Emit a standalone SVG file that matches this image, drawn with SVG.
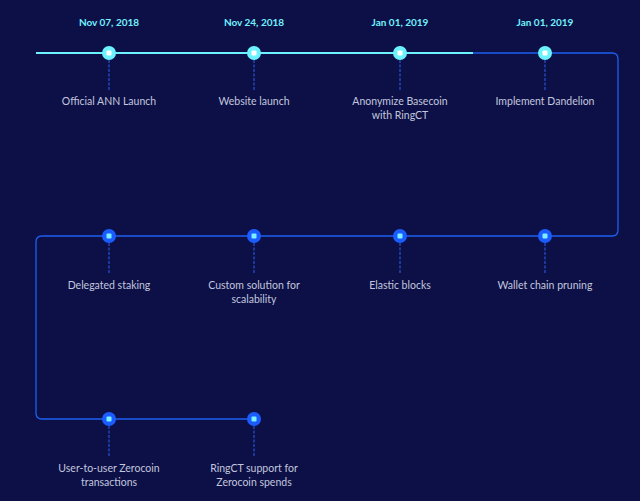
<svg xmlns="http://www.w3.org/2000/svg" width="640" height="501" viewBox="0 0 640 501">
<defs>
<style>
.bg{fill:#0c1046}
.track{fill:none;stroke:#1d5ff0;stroke-width:1.3}
.done{fill:none;stroke:#6cf2ff;stroke-width:2}
.dash{stroke:#2a62f0;stroke-width:1;stroke-dasharray:3 1.5}
.date{font-family:"Lato","Noto Sans",sans-serif;font-weight:bold;font-size:10px;fill:#72f0ff;text-anchor:middle}
.lbl{font-family:"Lato","Noto Sans",sans-serif;font-size:10.5px;fill:#c3c6df;text-anchor:middle}
.dotA{fill:#6cf2ff}
.sqA{fill:#ffffff}
.dotB{fill:#1a5cff}
.sqB{fill:#7cf0ff}
</style>
</defs>
<rect class="bg" x="0" y="0" width="640" height="501"/>
<g id="connectors">
<path class="track" d="M36,53 H612 Q618,53 618,59 V230 Q618,236 612,236 H42 Q36,236 36,242 V413 Q36,419 42,419 H254"/>
<line class="done" x1="36" y1="53" x2="473" y2="53"/>
<line class="dash" x1="109" y1="60" x2="109" y2="90"/>
<line class="dash" x1="254" y1="60" x2="254" y2="90"/>
<line class="dash" x1="400" y1="60" x2="400" y2="90"/>
<line class="dash" x1="545" y1="60" x2="545" y2="90"/>
<line class="dash" x1="109" y1="243" x2="109" y2="273"/>
<line class="dash" x1="254" y1="243" x2="254" y2="273"/>
<line class="dash" x1="400" y1="243" x2="400" y2="273"/>
<line class="dash" x1="545" y1="243" x2="545" y2="273"/>
<line class="dash" x1="109" y1="426" x2="109" y2="456"/>
<line class="dash" x1="254" y1="426" x2="254" y2="456"/>
</g>
<g id="n1"><text class="date" x="109" y="26">Nov 07, 2018</text><circle class="dotA" cx="109" cy="53" r="7"/><rect class="sqA" x="106.5" y="50.5" width="5" height="5" rx="1"/><text class="lbl" x="109" y="105">Official ANN Launch</text></g>
<g id="n2"><text class="date" x="254" y="26">Nov 24, 2018</text><circle class="dotA" cx="254" cy="53" r="7"/><rect class="sqA" x="251.5" y="50.5" width="5" height="5" rx="1"/><text class="lbl" x="254" y="105">Website launch</text></g>
<g id="n3"><text class="date" x="400" y="26">Jan 01, 2019</text><circle class="dotA" cx="400" cy="53" r="7"/><rect class="sqA" x="397.5" y="50.5" width="5" height="5" rx="1"/><text class="lbl" x="400" y="105">Anonymize Basecoin</text><text class="lbl" x="400" y="119">with RingCT</text></g>
<g id="n4"><text class="date" x="545" y="26">Jan 01, 2019</text><circle class="dotA" cx="545" cy="53" r="7"/><rect class="sqA" x="542.5" y="50.5" width="5" height="5" rx="1"/><text class="lbl" x="545" y="105">Implement Dandelion</text></g>
<g id="n5"><circle class="dotB" cx="109" cy="236" r="7"/><rect class="sqB" x="106.5" y="233.5" width="5" height="5" rx="1"/><text class="lbl" x="109" y="289">Delegated staking</text></g>
<g id="n6"><circle class="dotB" cx="254" cy="236" r="7"/><rect class="sqB" x="251.5" y="233.5" width="5" height="5" rx="1"/><text class="lbl" x="254" y="289">Custom solution for</text><text class="lbl" x="254" y="303">scalability</text></g>
<g id="n7"><circle class="dotB" cx="400" cy="236" r="7"/><rect class="sqB" x="397.5" y="233.5" width="5" height="5" rx="1"/><text class="lbl" x="400" y="289">Elastic blocks</text></g>
<g id="n8"><circle class="dotB" cx="545" cy="236" r="7"/><rect class="sqB" x="542.5" y="233.5" width="5" height="5" rx="1"/><text class="lbl" x="545" y="289">Wallet chain pruning</text></g>
<g id="n9"><circle class="dotB" cx="109" cy="419" r="7"/><rect class="sqB" x="106.5" y="416.5" width="5" height="5" rx="1"/><text class="lbl" x="109" y="472">User-to-user Zerocoin</text><text class="lbl" x="109" y="486">transactions</text></g>
<g id="n10"><circle class="dotB" cx="254" cy="419" r="7"/><rect class="sqB" x="251.5" y="416.5" width="5" height="5" rx="1"/><text class="lbl" x="254" y="472">RingCT support for</text><text class="lbl" x="254" y="486">Zerocoin spends</text></g>
</svg>
